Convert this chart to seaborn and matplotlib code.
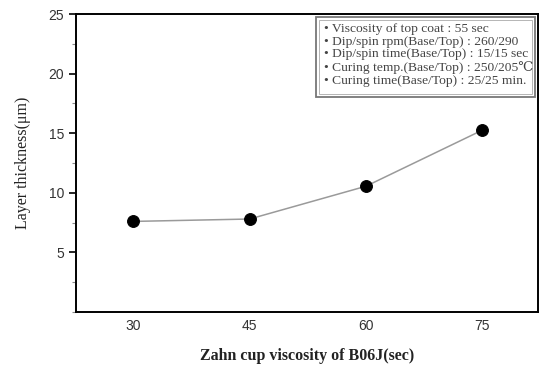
import matplotlib
matplotlib.use("Agg")
import matplotlib.pyplot as plt
import seaborn as sns
import pandas as pd
from matplotlib.patches import Rectangle
from matplotlib.ticker import MultipleLocator

viscosity = [30, 45, 60, 75]
thickness = [7.6, 7.8, 10.55, 15.25]
x_ticks = [30, 45, 60, 75]
y_ticks = [5, 10, 15, 20, 25]
notes = [
    "• Viscosity of top coat : 55 sec",
    "• Dip/spin rpm(Base/Top) : 260/290",
    "• Dip/spin time(Base/Top) : 15/15 sec",
    "• Curing temp.(Base/Top) : 250/205\u2103",
    "• Curing time(Base/Top) : 25/25 min.",
]

sns.set_theme(style="white")
plt.rcParams['font.family'] = ['Liberation Sans', 'DejaVu Sans']

df = pd.DataFrame({"x": viscosity, "y": thickness})

fig = plt.figure(figsize=(5.4, 3.7), dpi=100)
ax = fig.add_axes([76/540, 58/370, 462/540, 298/370])

sns.lineplot(data=df, x="x", y="y", ax=ax, color="#9a9a9a", linewidth=1.1,
             marker="o", markersize=8.5, markerfacecolor="black",
             markeredgecolor="black")

ax.set_xlim(22.6, 82.2)
ax.set_ylim(0, 25)
ax.set_xticks(x_ticks)
ax.set_yticks(y_ticks)
ax.yaxis.set_minor_locator(MultipleLocator(2.5))
ax.tick_params(axis="x", direction="in", length=5, width=1.2, labelsize=10,
               pad=5, colors="black", labelcolor="#333333")
ax.tick_params(axis="y", which="major", direction="out", length=5, width=1.2,
               labelsize=10, colors="black", labelcolor="#333333", left=True)
ax.tick_params(axis="y", which="minor", direction="out", length=3, width=0.8,
               left=True, colors="#888888")

for s in ax.spines.values():
    s.set_color("black")
    s.set_linewidth(1.4)

serif = ['Liberation Serif', 'DejaVu Serif']
ax.set_xlabel("Zahn cup viscosity of B06J(sec)", family=serif, fontsize=11.5,
              fontweight="bold", color="#222222", labelpad=11)
ax.set_ylabel("Layer thickness(\u03bcm)", family=serif, fontsize=11.5,
              color="#222222", labelpad=13)

bx0, by0 = (316-76)/462, (312-97)/298
bw, bh = (535-316)/462, (97-17)/298
ax.add_patch(Rectangle((bx0, by0), bw, bh, transform=ax.transAxes,
                       fill=False, edgecolor="#777777", linewidth=1.3))
ax.add_patch(Rectangle((bx0+0.006, by0+0.009), bw-0.012, bh-0.018,
                       transform=ax.transAxes, fill=False,
                       edgecolor="#aaaaaa", linewidth=0.6))
ax.text(bx0 + 0.017, by0 + bh - 0.02, "\n".join(notes), transform=ax.transAxes,
        ha="left", va="top", family=serif, fontsize=9.7, color="#444444",
        linespacing=1.08)

fig.savefig("out.png", dpi=100)
